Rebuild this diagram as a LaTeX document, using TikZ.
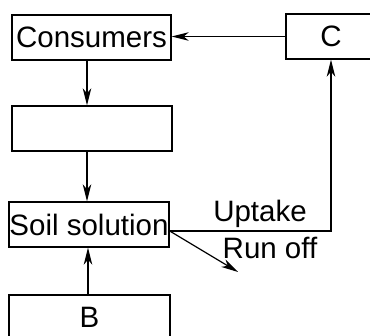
\documentclass[tikz,border=0pt]{standalone}
\usepackage{fontspec}
\setmainfont{Liberation Sans}
\usetikzlibrary{arrows.meta}
\begin{document}
\begin{tikzpicture}[x=1pt,y=1pt,
  box/.style={draw, line width=1.4pt, minimum height=45pt, inner sep=0pt, font=\fontsize{29.5}{31}\selectfont},
  arr/.style={line width=1.2pt, -{Stealth[length=17pt,width=8.5pt,inset=5pt]}},
  lbl/.style={font=\fontsize{29.5}{31}\selectfont, inner sep=0pt}]
\useasboundingbox (0,-336) rectangle (370,0);
\node[box, minimum width=159pt] (cons) at (91.5,-37.5) {Consumers};
\node[box, minimum width=160pt] (empty) at (92,-128.5) {};
\node[box, minimum width=160pt] (soil) at (89,-224.5) {Soil solution};
\node[box, minimum width=161pt] (B) at (89.5,-317.5) {B};
\node[box, minimum width=90pt] (C) at (331,-36.5) {C};
\coordinate (ro) at (238,-272);
\node[lbl] (up) at (260,-214) {Uptake};
\node[lbl] (run) at (270,-248) {Run off};
\draw[arr] (C.west) -- (C.west -| cons.east);
\draw[arr] ([xshift=-4.5pt]cons.south) -- ([xshift=-4.5pt]cons.south |- empty.north);
\draw[arr] ([xshift=-5pt]empty.south) -- ([xshift=-5pt]empty.south |- soil.north);
\draw[arr] ([xshift=-1.5pt]B.north) -- ([xshift=-1.5pt]B.north |- soil.south);
\draw[arr] ([yshift=-6.5pt]soil.east) -| (C.south);
\draw[arr] ([yshift=-6.5pt]soil.east) -- (ro);
\end{tikzpicture}
\end{document}
